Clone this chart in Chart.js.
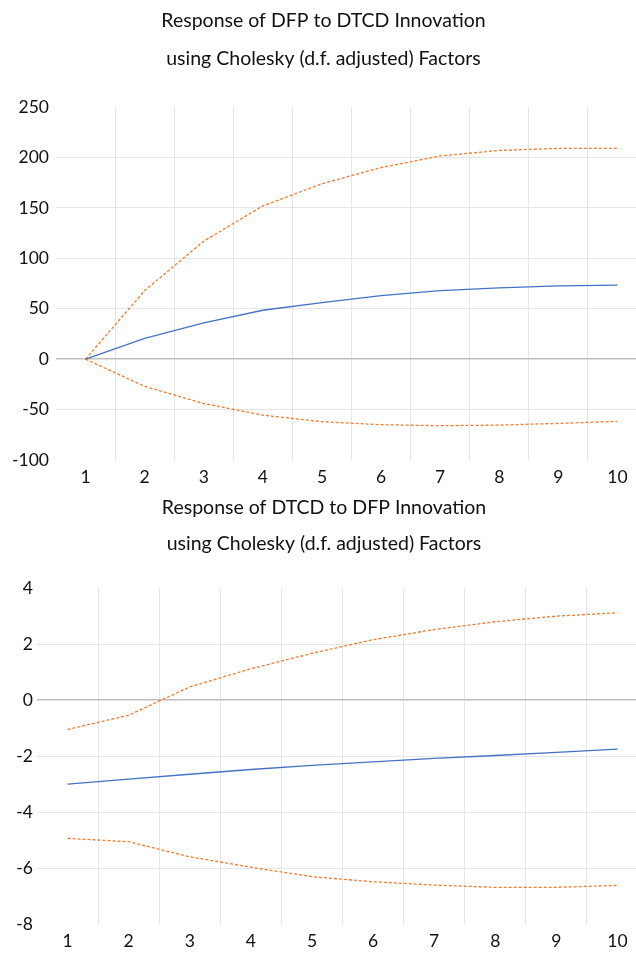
<!DOCTYPE html>
<html>
<head>
<meta charset="utf-8">
<script src="https://cdn.jsdelivr.net/npm/chart.js@4.4.1/dist/chart.umd.min.js"></script>
<style>
  html, body { margin: 0; padding: 0; background: #fff; overflow: hidden; }
  .box { position: absolute; left: 0; width: 700px; }
  #top { top: 0; height: 490px; }
  #bottom { top: 490px; height: 464px; }
</style>
</head>
<body>
<div class="box" id="top"><canvas id="chart1"></canvas></div>
<div class="box" id="bottom"><canvas id="chart2"></canvas></div>
<script>
// periods
const periods = ["1", "2", "3", "4", "5", "6", "7", "8", "9", "10"];

// Response of DFP to DTCD
const dfpResp  = [0, 20.5, 36, 48.5, 56, 63, 68, 70.7, 72.7, 73.4];
const dfpUpper = [0, 68, 117, 152, 174, 190, 201.5, 207, 209, 209];
const dfpLower = [0, -27, -44, -55.5, -62, -65, -66, -65.4, -63.7, -61.7];

// Response of DTCD to DFP
const dtcdResp  = [-3.0, -2.82, -2.65, -2.48, -2.33, -2.21, -2.08, -1.98, -1.87, -1.75];
const dtcdUpper = [-1.05, -0.54, 0.47, 1.12, 1.67, 2.16, 2.52, 2.8, 3.0, 3.12];
const dtcdLower = [-4.94, -5.06, -5.6, -5.97, -6.31, -6.49, -6.61, -6.69, -6.69, -6.62];

const yTicks1 = { min: -100, max: 250, step: 50 };
const yTicks2 = { min: -8, max: 4, step: 2 };

const FONT = "Lato, 'Open Sans', sans-serif";
const BLUE = "#4472C4";
const ORANGE = "#ED7D31";

function makeChart(id, titleLines, resp, upper, lower, yt, opts) {
  const ctx = document.getElementById(id).getContext('2d');
  return new Chart(ctx, {
    type: 'line',
    data: {
      labels: periods,
      datasets: [
        { data: resp, borderColor: BLUE, borderWidth: 1.3, pointRadius: 0, tension: 0 },
        { data: upper, borderColor: ORANGE, borderWidth: 1.3, borderDash: [3, 2], pointRadius: 0, tension: 0 },
        { data: lower, borderColor: ORANGE, borderWidth: 1.3, borderDash: [3, 2], pointRadius: 0, tension: 0 }
      ]
    },
    options: {
      responsive: true,
      maintainAspectRatio: false,
      animation: false,
      layout: { padding: { left: 0, right: opts.padRight, top: 0, bottom: 0 } },
      plugins: {
        legend: { display: false },
        tooltip: { enabled: false },
        title: {
          display: true,
          text: titleLines,
          color: '#111',
          font: { family: FONT, size: 19.5, weight: 'normal', lineHeight: opts.titleLH },
          padding: { top: opts.titleTop, bottom: opts.titleBottom }
        }
      },
      scales: {
        x: {
          offset: true,
          grid: {
            offset: true,
            drawTicks: false,
            color: c => c.index === 0 ? 'rgba(0,0,0,0)' : '#e6e6e6'
          },
          border: { display: false },
          ticks: { color: '#111', font: { family: FONT, size: 17.5 }, padding: opts.xPad, maxRotation: 0 },
          afterFit: s => { s.height = opts.xHeight; }
        },
        y: {
          min: yt.min,
          max: yt.max,
          grid: {
            drawTicks: false,
            color: c => {
              const v = c.tick.value;
              if (v === yt.min || v === yt.max) return 'rgba(0,0,0,0)';
              return v === 0 ? '#bfbfbf' : '#e6e6e6';
            },
            lineWidth: c => c.tick.value === 0 ? 1.5 : 1
          },
          border: { display: false },
          ticks: { stepSize: yt.step, color: '#111', font: { family: FONT, size: 17.5 }, padding: opts.yPad },
          afterFit: s => { s.width = opts.yWidth; }
        }
      }
    }
  });
}

makeChart('chart1',
  ["Response of DFP to DTCD Innovation", "using Cholesky (d.f. adjusted) Factors"],
  dfpResp, dfpUpper, dfpLower, yTicks1,
  { padRight: 53, titleLH: 1.95, titleTop: 2, titleBottom: 29, xPad: 7, xHeight: 30, yPad: 7, yWidth: 56 });

makeChart('chart2',
  ["Response of DTCD to DFP Innovation", "using Cholesky (d.f. adjusted) Factors"],
  dtcdResp, dtcdUpper, dtcdLower, yTicks2,
  { padRight: 52, titleLH: 1.85, titleTop: 0, titleBottom: 26, xPad: 7, xHeight: 30, yPad: 4, yWidth: 37 });
</script>
</body>
</html>
